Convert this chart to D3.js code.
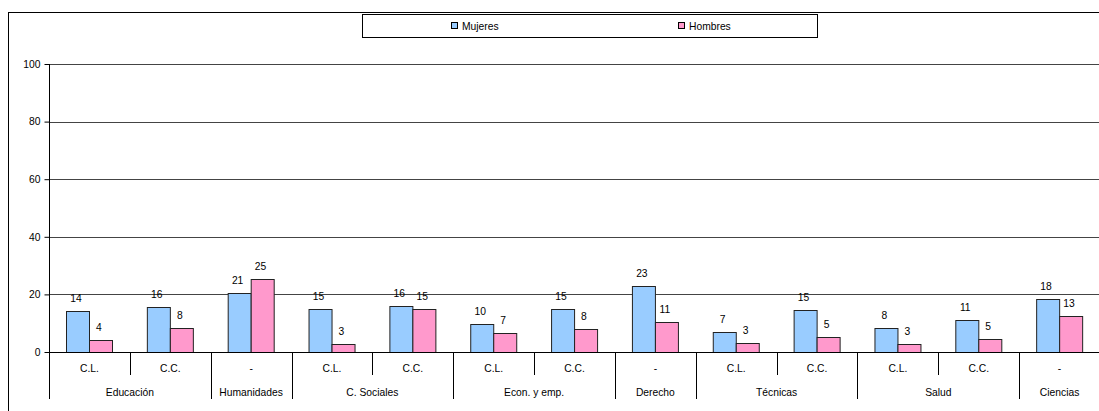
<!DOCTYPE html>
<html>
<head>
<meta charset="utf-8">
<script src="https://cdn.jsdelivr.net/npm/d3@7"></script>
<style>
  body { margin: 0; background: #fff; }
  text { font-family: "Liberation Sans", Arial, sans-serif; fill: #000; }
</style>
</head>
<body>
<div class="chart"></div>
<script>

// data
var groups = ["Educación", "Educación", "Humanidades", "C. Sociales", "C. Sociales",
  "Econ. y emp.", "Econ. y emp.", "Derecho", "Técnicas", "Técnicas", "Salud", "Salud", "Ciencias"];
var subLabels = ["C.L.", "C.C.", "-", "C.L.", "C.C.", "C.L.", "C.C.", "-", "C.L.", "C.C.", "C.L.", "C.C.", "-"];
var mujeres = [14.3, 15.7, 20.6, 15.0, 16.1, 9.7, 14.9, 23.0, 6.9, 14.6, 8.3, 11.1, 18.4];
var hombres = [4.2, 8.3, 25.2, 2.8, 15.0, 6.6, 8.0, 10.5, 3.1, 5.2, 2.8, 4.5, 12.6];
var series = ["Mujeres", "Hombres"];
var yTicks = [0, 20, 40, 60, 80, 100];

var colors = { Mujeres: "#99ccff", Hombres: "#ff99cc" };
var fontSize = "10.3px";

var svgWidth = 1099, svgHeight = 411;
var margin = { top: 64, left: 49 };
var width = 1051, height = 288;

var svg = d3.select(".chart").append("svg")
  .attr("width", svgWidth)
  .attr("height", svgHeight);

// outer frame (runs past the right and bottom edges)
svg.append("rect")
  .attr("x", 8.5).attr("y", 12.5)
  .attr("width", 1200).attr("height", 500)
  .attr("fill", "none").attr("stroke", "#000");

var chartGroup = svg.append("g")
  .attr("transform", `translate(${margin.left}, ${margin.top})`);

var slots = d3.range(groups.length);
var x = d3.scaleBand().domain(slots).range([0, width]).paddingInner(0).paddingOuter(0);
var xSeries = d3.scaleBand().domain(series).range([0, x.bandwidth()]).paddingInner(0).paddingOuter(0.76);
var y = d3.scaleLinear().domain([0, 100]).range([height, 0]);

// grid lines
chartGroup.append("g").selectAll("line")
  .data(yTicks.filter(d => d > 0))
  .enter().append("line")
  .attr("x1", 0).attr("x2", width)
  .attr("y1", d => Math.round(y(d)) + 0.5).attr("y2", d => Math.round(y(d)) + 0.5)
  .attr("stroke", "#444");

// y axis
var yAxis = d3.axisLeft(y).tickValues(yTicks).tickSize(5).tickPadding(4);
var yg = chartGroup.append("g").attr("transform", "translate(0.5,0)").call(yAxis);
yg.select(".domain").remove();
yg.selectAll("line").attr("stroke", "#000");
yg.selectAll("text").style("font-size", fontSize).style("font-family", "'Liberation Sans', Arial, sans-serif");
chartGroup.append("line")
  .attr("x1", 0.5).attr("x2", 0.5)
  .attr("y1", 0).attr("y2", height + 47)
  .attr("stroke", "#000");

// bars
var rows = slots.map(i => ({ i: i, Mujeres: mujeres[i], Hombres: hombres[i] }));
var barGroups = chartGroup.append("g").selectAll("g")
  .data(rows)
  .enter().append("g")
  .attr("transform", d => `translate(${x(d.i)},0)`);

barGroups.selectAll("rect")
  .data(d => series.map(s => ({ s: s, v: d[s] })))
  .enter().append("rect")
  .attr("x", d => Math.round(xSeries(d.s)) + 0.5)
  .attr("y", d => Math.round(y(d.v)) + 0.5)
  .attr("width", Math.round(xSeries.bandwidth()))
  .attr("height", d => Math.round(height - y(d.v)))
  .attr("fill", d => colors[d.s])
  .attr("stroke", "#222");

barGroups.selectAll("text")
  .data(d => series.map(s => ({ s: s, v: d[s] })))
  .enter().append("text")
  .attr("x", d => xSeries(d.s) + xSeries.bandwidth() / 2 - 2)
  .attr("y", d => y(d.v) - 9)
  .attr("text-anchor", "middle")
  .style("font-size", fontSize)
  .text(d => Math.round(d.v));

// x axis line
chartGroup.append("line")
  .attr("x1", 0).attr("x2", width)
  .attr("y1", height + 0.5).attr("y2", height + 0.5)
  .attr("stroke", "#000");

// sub category labels and separators
chartGroup.append("g").selectAll("text")
  .data(slots)
  .enter().append("text")
  .attr("x", d => x(d) + x.bandwidth() / 2)
  .attr("y", height + 20)
  .attr("text-anchor", "middle")
  .style("font-size", fontSize)
  .text(d => subLabels[d]);

chartGroup.append("g").selectAll("line")
  .data(slots.slice(1))
  .enter().append("line")
  .attr("x1", d => Math.round(x(d)) + 0.5).attr("x2", d => Math.round(x(d)) + 0.5)
  .attr("y1", height)
  .attr("y2", d => groups[d] === groups[d - 1] ? height + 23 : height + 47)
  .attr("stroke", "#000");

// group labels
var groupSpans = [];
slots.forEach(function(i) {
  var last = groupSpans[groupSpans.length - 1];
  if (last && last.name === groups[i]) last.end = i;
  else groupSpans.push({ name: groups[i], start: i, end: i });
});
chartGroup.append("g").selectAll("text")
  .data(groupSpans)
  .enter().append("text")
  .attr("x", d => (x(d.start) + x(d.end) + x.bandwidth()) / 2)
  .attr("y", height + 44)
  .attr("text-anchor", "middle")
  .style("font-size", fontSize)
  .text(d => d.name);

// legend
var legend = svg.append("g");
legend.append("rect")
  .attr("x", 362.5).attr("y", 14.5)
  .attr("width", 455).attr("height", 23)
  .attr("fill", "#fff").attr("stroke", "#000");
var legendX = { Mujeres: 451, Hombres: 678 };
series.forEach(function(s) {
  legend.append("rect")
    .attr("x", legendX[s] + 0.5).attr("y", 22.5)
    .attr("width", 6).attr("height", 6)
    .attr("fill", colors[s]).attr("stroke", "#000");
  legend.append("text")
    .attr("x", legendX[s] + 11).attr("y", 30)
    .style("font-size", fontSize)
    .text(s);
});

</script>
</body>
</html>
